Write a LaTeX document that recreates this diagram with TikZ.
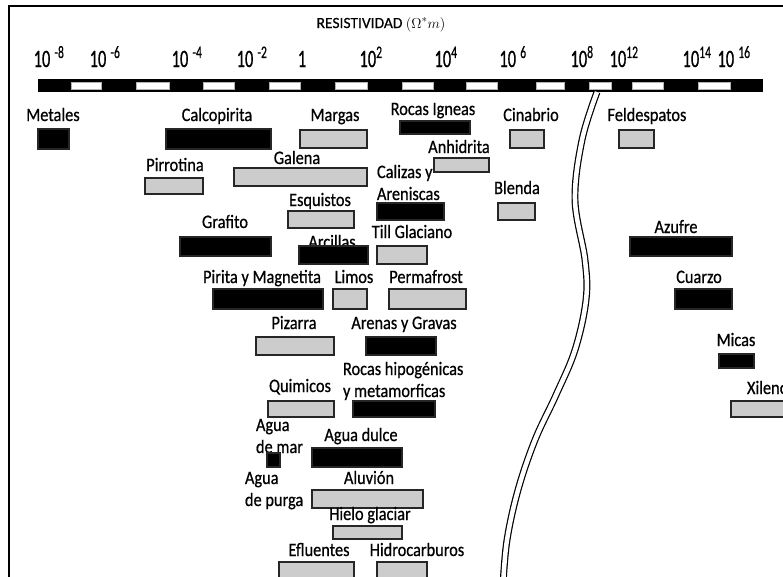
\documentclass[tikz,border=0pt]{standalone}
\usepackage{fontspec}
\usepackage{amssymb}
\usetikzlibrary{positioning}
\newfontfamily\lblfont[FakeStretch=0.86, FakeBold=0.6]{Carlito}
\newfontfamily\numfont[FakeStretch=0.66, FakeBold=0.6]{Carlito}
\newfontfamily\ttlfont[FakeBold=0.5]{Carlito}

\begin{document}
\begin{tikzpicture}[
        x=1pt, y=-1pt,
        every node/.style={inner sep=0pt, outer sep=0pt},
        lbl/.style={font=\lblfont\fontsize{19}{22}\selectfont, anchor=base},
        lblw/.style={lbl, anchor=base west, align=left},
        num/.style={font=\numfont\fontsize{25}{28}\selectfont, anchor=base},
        wh/.style 2 args={minimum width=#1pt, minimum height=#2pt},
        dark/.style={draw=black!85, line width=1.2pt, fill=black},
        light/.style={draw=black!85, line width=1.2pt, fill=gray!40}
    ]
    \useasboundingbox (0,0) rectangle (783,576);
    \clip (0,0) rectangle (783,576);

    % Frame
    \draw[line width=1.6pt] (9,590) -- (9,6) -- (790,6);

    % Scale
    \node[font=\ttlfont\fontsize{15.5}{18}\selectfont, anchor=base] (titulo) at (381,28) {RESISTIVIDAD $(\Omega^{*}m)$};
    \node[num] (e1) at (49,67) {10\,\textsuperscript{-8}};
    \node[num] (e2) at (105,67) {10\,\textsuperscript{-6}};
    \node[num] (e3) at (187,67) {10\,\textsuperscript{-4}};
    \node[num] (e4) at (252,67) {10\,\textsuperscript{-2}};
    \node[num] (e5) at (302,67) {1};
    \node[num] (e6) at (371,67) {10\textsuperscript{2}};
    \node[num] (e7) at (446,67) {10\textsuperscript{4}};
    \node[num] (e8) at (513,67) {10\,\textsuperscript{6}};
    \node[num] (e9) at (582,67) {10\textsuperscript{8}};
    \node[num] (e10) at (624,67) {10\textsuperscript{12}};
    \node[num] (e11) at (697,67) {10\textsuperscript{14}};
    \node[num] (e12) at (734,67) {10\,\textsuperscript{16}};

    \fill (38,79) rectangle (763,92);
    \foreach \a/\b in {71/101, 136/169, 203/234, 269/300, 335/367, 402/433,
                       466/497, 536/564, 589/611, 632/663, 698/730}
        \filldraw[fill=white, draw=gray!60, line width=.5pt] (\a,82) rectangle (\b,89);

    % Break
    \draw[double=white, double distance=4.5pt, line width=1.2pt]
        plot[smooth, tension=0.6] coordinates {(597,92) (582,140) (575,200) (585,260)
        (586,300) (575,350) (556,395) (535,440) (518,490) (507,540) (503,585)};

    % Rocks
    \node[lbl] (tMetales) at (53,121) {Metales};
    \node[dark, wh={31}{20}] (metales) at (53.5,139) {};

    \node[lbl] (tCalcopirita) at (217,121) {Calcopirita};
    \node[dark, wh={105}{20}] (calcopirita) at (218.5,139) {};

    \node[lbl] (tMargas) at (335,121) {Margas};
    \node[light, wh={67}{18}] (margas) at (333.5,139) {};

    \node[lbl] (tIgneas) at (433,115) {Rocas Igneas};
    \node[dark, wh={70}{13}] (igneas) at (435,127.5) {};

    \node[lbl] (tCinabrio) at (531,121) {Cinabrio};
    \node[light, wh={34}{18}] (cinabrio) at (527,139) {};

    \node[lbl] (tFeldespatos) at (647,121) {Feldespatos};
    \node[light, wh={35}{18}] (feldespatos) at (636.5,139) {};

    \node[lbl] (tPirrotina) at (175,171) {Pirrotina};
    \node[light, wh={58}{16}] (pirrotina) at (174,186) {};

    \node[lbl] (tGalena) at (297,164) {Galena};
    \node[light, wh={133}{18}] (galena) at (300.5,177) {};

    \node[lbl] (tAnhidrita) at (459,153) {Anhidrita};
    \node[light, wh={55}{14}] (anhidrita) at (461.5,165) {};

    \node[lblw] (tCalizas) at (377,200) {Calizas y\\Areniscas};
    \node[dark, wh={67}{17}] (calizas) at (410.5,211.5) {};

    \node[lbl] (tBlenda) at (517,194) {Blenda};
    \node[light, wh={37}{17}] (blenda) at (516.5,211.5) {};

    \node[lbl] (tEsquistos) at (320,206) {Esquistos};
    \node[light, wh={66}{17}] (esquistos) at (321,219.5) {};

    \node[lbl] (tGrafito) at (225,228) {Grafito};
    \node[dark, wh={91}{19}] (grafito) at (225.5,246.5) {};

    \node[lbl] (tTill) at (412,238) {Till Glaciano};
    \node[light, wh={50}{18}] (till) at (402,255) {};

    \node[lbl] (tArcillas) at (332,248) {Arcillas};
    \node[dark, wh={69}{18}] (arcillas) at (333.5,255) {};

    \node[lbl] (tAzufre) at (676,233) {Azufre};
    \node[dark, wh={102}{19}] (azufre) at (681,246.5) {};

    \node[lbl] (tPirita) at (262,283) {Pirita y Magnetita};
    \node[dark, wh={110}{20}] (pirita) at (268,299) {};

    \node[lbl] (tLimos) at (354,283) {Limos};
    \node[light, wh={34}{20}] (limos) at (350,299) {};

    \node[lbl] (tPermafrost) at (426,283) {Permafrost};
    \node[light, wh={77}{20}] (permafrost) at (427.5,299) {};

    \node[lbl] (tCuarzo) at (699,283) {Cuarzo};
    \node[dark, wh={57}{20}] (cuarzo) at (703.5,299) {};

    \node[lbl] (tPizarra) at (294,329) {Pizarra};
    \node[light, wh={78}{18}] (pizarra) at (295,346) {};

    \node[lbl] (tArenas) at (404,329) {Arenas y Gravas};
    \node[dark, wh={70}{18}] (arenas) at (401,346) {};

    \node[lbl] (tMicas) at (736,346) {Micas};
    \node[dark, wh={35}{14}] (micas) at (736.5,361) {};

    \node[lblw] (tHipo) at (343,397) {Rocas hipogénicas\\y metamorficas};
    \node[dark, wh={82}{16}] (hipo) at (394,409) {};

    \node[lbl] (tQuimicos) at (300,392) {Quimicos};
    \node[light, wh={66}{16}] (quimicos) at (301,409) {};

    \node[lbl, anchor=base west] (tXileno) at (747,394) {Xileno};
    \node[light, wh={68}{16}] (xileno) at (765,409) {};

    \node[lblw] (tMar) at (256,453) {Agua\\de mar};
    \node[dark, wh={13}{14}] (mar) at (273.5,460) {};

    \node[lbl] (tDulce) at (361,441) {Agua dulce};
    \node[dark, wh={90}{19}] (dulce) at (357,457.5) {};

    \node[lblw] (tPurga) at (245,506) {Agua\\de purga};

    \node[lbl] (tAluvion) at (369,484) {Aluvión};
    \node[light, wh={111}{18}] (aluvion) at (367.5,499) {};

    \node[lbl] (tHielo) at (370,520) {Hielo glaciar};
    \node[light, wh={69}{13}] (hielo) at (367.5,532.5) {};

    \node[lbl] (tEfluentes) at (319,556) {Efluentes};
    \node[light, wh={75}{18}] (efluentes) at (316.5,571) {};

    \node[lbl] (tHidro) at (417,556) {Hidrocarburos};
    \node[light, wh={50}{18}] (hidro) at (402,571) {};

\end{tikzpicture}
\end{document}
